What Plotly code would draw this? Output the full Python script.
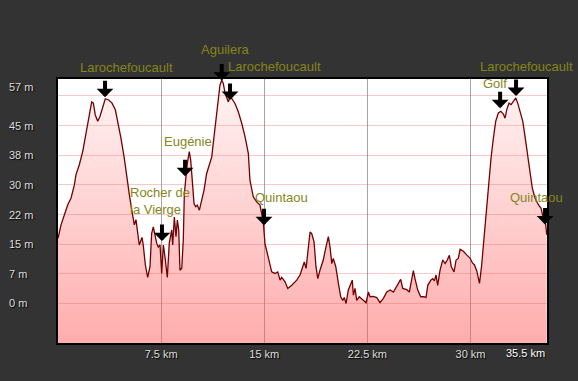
import plotly.graph_objects as go

# ---------------- data ----------------
km = [0.00,0.22,0.46,0.71,0.95,1.19,1.31,1.55,1.80,1.91,
      2.16,2.28,2.45,2.57,2.71,2.89,3.05,3.25,3.44,3.69,
      3.93,4.17,4.34,4.58,4.82,5.00,5.19,5.38,5.55,5.67,
      5.80,5.91,6.11,6.20,6.35,6.52,6.69,6.81,6.93,7.18,
      7.29,7.42,7.54,7.66,7.78,7.95,8.09,8.27,8.34,8.46,
      8.58,8.68,8.78,8.87,9.00,9.11,9.19,9.29,9.40,9.55,
      9.65,9.80,9.89,10.01,10.13,10.28,10.45,10.62,10.81,11.00,
      11.18,11.29,11.42,11.54,11.66,11.78,11.91,12.02,12.15,12.27,
      12.39,12.51,12.63,12.87,13.11,13.36,13.60,13.84,13.96,14.20,
      14.45,14.69,14.93,15.05,15.18,15.35,15.54,15.78,15.98,16.15,
      16.27,16.51,16.71,17.00,17.36,17.60,17.77,17.91,18.04,18.20,
      18.33,18.45,18.62,18.76,18.89,19.05,19.29,19.49,19.66,19.78,
      19.91,20.02,20.20,20.39,20.56,20.71,20.82,20.95,21.11,21.31,
      21.40,21.48,21.60,21.72,21.91,22.20,22.40,22.57,22.69,22.93,
      23.18,23.42,23.66,23.91,24.15,24.39,24.63,24.92,25.07,25.36,
      25.55,25.72,25.84,25.96,26.16,26.38,26.62,26.76,26.89,27.11,
      27.25,27.37,27.49,27.61,27.78,27.98,28.15,28.31,28.46,28.60,
      28.80,28.95,29.11,29.24,29.48,29.72,29.96,30.15,30.28,30.45,
      30.65,30.80,30.95,31.11,31.29,31.49,31.66,31.83,32.02,32.20,
      32.39,32.51,32.63,32.80,32.95,33.11,33.29,33.43,33.60,33.80,
      33.96,34.16,34.33,34.49,34.69,34.93,35.13,35.29,35.47,35.54]

elevation = [16.5,19.9,22.4,25.0,26.7,30.0,32.6,35.1,38.5,40.6,
             44.4,47.7,51.0,50.7,47.7,46.1,47.3,49.9,51.8,51.5,
             50.7,49.0,46.1,41.8,36.8,31.7,27.5,23.3,19.9,21.2,
             17.4,14.8,16.7,14.8,9.8,6.6,9.3,17.7,19.4,15.2,
             14.3,14.8,7.6,14.8,11.8,6.6,15.2,18.6,14.8,21.9,
             16.9,21.1,18.6,8.4,8.9,16.0,27.9,32.5,35.4,38.4,
             36.3,29.5,25.3,24.5,24.9,23.6,26.2,28.7,32.9,35.0,
             37.1,40.5,44.7,48.9,52.3,55.3,56.5,55.7,53.2,52.3,
             51.0,52.3,51.9,50.6,48.5,45.6,42.2,38.0,31.2,27.0,
             25.7,24.9,20.6,15.2,13.1,10.5,8.0,7.6,8.0,5.9,
             6.6,5.5,3.8,4.6,5.9,7.2,9.3,10.5,8.9,13.5,
             18.1,17.7,15.6,9.3,6.3,8.4,11.0,14.3,16.9,14.3,
             10.1,11.4,9.3,5.1,1.7,0.8,1.5,0.0,3.4,5.1,
             5.9,2.1,3.8,0.8,1.7,0.8,0.2,2.9,1.7,1.8,
             1.5,0.2,1.3,2.9,3.4,2.9,4.2,6.1,3.8,3.5,
             2.9,5.9,8.3,6.3,3.4,1.7,1.7,1.5,4.6,5.9,
             6.3,5.7,7.2,4.6,8.4,11.0,10.1,11.0,12.2,9.3,
             8.0,11.0,11.4,13.7,13.2,12.3,11.5,10.2,9.8,8.3,
             5.1,9.4,15.3,23.3,30.0,36.8,41.8,46.1,48.2,48.6,
             47.9,46.9,49.0,50.7,50.3,51.1,52.0,50.7,48.6,46.1,
             42.3,36.8,32.6,29.2,26.7,25.0,24.1,21.6,19.9,17.4]

waypoint_names = ["Larochefoucault", "Aguilera", "Larochefoucault", "Eugénie",
                  "Rocher de<br>la Vierge", "Quintaou", "Golf",
                  "Larochefoucault", "Quintaou"]
waypoint_km = [3.42, 11.91, 12.51, 9.24, 7.56, 14.98, 32.15, 33.31, 35.42]
waypoint_elev = [52.2, 56.4, 51.5, 32.2, 15.8, 19.8, 49.4, 52.5, 20.0]

y_tick_vals = [0, 7.5, 15, 22.5, 30, 37.5, 45, 52.5]
y_tick_text = ["0 m", "7 m", "15 m", "22 m", "30 m", "38 m", "45 m", "57 m"]
x_tick_vals = [7.5, 15, 22.5, 30]
x_tick_text = ["7.5 km", "15 km", "22.5 km", "30 km"]
x_end_text = "35.5 km"

x_range = [0, 35.56]
y_range = [-10.0, 56.8]

# ---------------- styling / layout helpers ----------------
label_dx = [21, 3, 44, 3, -2, 17, -5, 10, -9]     # px offsets of label text from arrow tip
label_dy = [30, 31, 33, 35, 40, 28, 25, 29, 27]
label_align = ["center", "center", "center", "center", "left", "center", "center", "center", "center"]
FONT = "Liberation Sans, Arial, sans-serif"
OLIVE = "#85851a"
W, H = 578, 381
ML, MR, MT, MB = 58, 31, 79, 38
plot_w = W - ML - MR

fig = go.Figure()
fig.add_trace(go.Scatter(x=km, y=[y_range[0]] * len(km), mode="lines",
                         line=dict(width=0), hoverinfo="skip", showlegend=False))
fig.add_trace(go.Scatter(
    x=km, y=elevation, mode="lines", fill="tonexty",
    line=dict(color="#730000", width=1.3),
    fillgradient=dict(type="vertical",
                      colorscale=[[0, "rgba(255,90,90,0.50)"], [1, "rgba(255,90,90,0.06)"]],
                      start=y_range[0], stop=y_range[1]),
    showlegend=False, hoverinfo="skip"))

annotations = []
for name, xk, ye, dx, dy, al in zip(waypoint_names, waypoint_km, waypoint_elev,
                                    label_dx, label_dy, label_align):
    annotations.append(dict(x=xk, y=ye, xref="x", yref="y", text="", showarrow=True,
                            arrowhead=1, arrowsize=0.7, arrowwidth=4, arrowcolor="black",
                            ax=0, ay=-18, standoff=0))
    annotations.append(dict(x=xk, y=ye, xref="x", yref="y", text=name, showarrow=False,
                            xshift=dx, yshift=dy, align=al,
                            font=dict(family=FONT, size=13, color=OLIVE)))

for i, (v, t) in enumerate(zip(y_tick_vals, y_tick_text)):
    annotations.append(dict(x=(7 - ML) / plot_w, y=v, xref="paper", yref="y", text=t,
                            showarrow=False, xanchor="left", yanchor="middle",
                            yshift=9 if i == len(y_tick_vals) - 1 else 0,
                            font=dict(family=FONT, size=11, color="#dddddd",
                                      shadow="1px 1px 1px #000000")))

annotations.append(dict(x=1, y=0, xref="paper", yref="paper", text=x_end_text,
                        showarrow=False, xanchor="right", yanchor="middle", yshift=-10,
                        font=dict(family=FONT, size=11, color="#ffffff",
                                  shadow="1px 1px 1px #000000")))

fig.update_layout(
    width=W, height=H,
    margin=dict(l=ML, r=MR, t=MT, b=MB),
    paper_bgcolor="#333333", plot_bgcolor="#ffffff",
    annotations=annotations,
    xaxis=dict(range=x_range, tickvals=x_tick_vals, ticktext=x_tick_text,
               showgrid=True, gridcolor="rgba(90,90,90,0.55)", gridwidth=1,
               zeroline=False, showline=True, mirror=True, linecolor="black", linewidth=2,
               ticks="", tickfont=dict(family=FONT, size=11, color="#dddddd",
                                       shadow="1px 1px 1px #000000")),
    yaxis=dict(range=y_range, tickvals=y_tick_vals, showticklabels=False,
               showgrid=True, gridcolor="rgba(225,80,80,0.30)", gridwidth=1,
               zeroline=False, showline=True, mirror=True, linecolor="black", linewidth=2,
               ticks=""),
)

fig.write_html("out.html", config={"displayModeBar": False},
               post_script="document.body.style.margin='0';document.body.style.padding='0';"
                           "document.body.style.background='#333333';")
